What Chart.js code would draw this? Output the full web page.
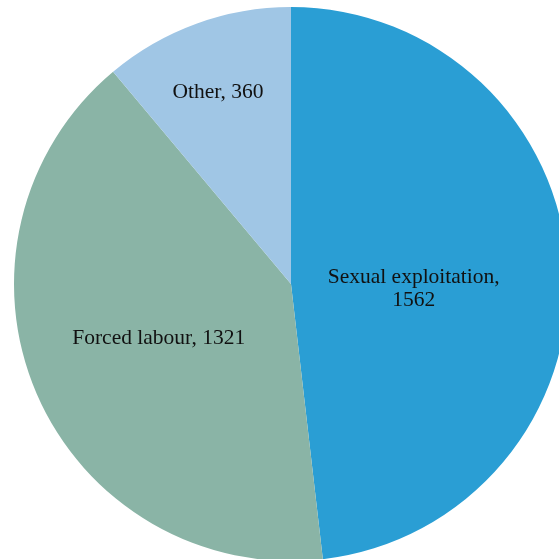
<!DOCTYPE html>
<html>
<head>
<meta charset="utf-8">
<script src="https://cdn.jsdelivr.net/npm/chart.js@4"></script>
<style>
  html, body { margin: 0; padding: 0; overflow: hidden; background: #fff; width: 559px; height: 559px; }
  #wrap { position: absolute; left: 0; top: 0; width: 582px; height: 570px; }
</style>
</head>
<body>
<div id="wrap"><canvas id="pie" width="582" height="570"></canvas></div>
<script>
const categories = ['Sexual exploitation', 'Forced labour', 'Other'];
const values = [1562, 1321, 360];
const colors = ['#2a9ed4', '#8ab4a6', '#a0c6e5'];

// label placement: fraction of radius along each slice's mid angle, plus a small nudge
const labelRadius = [0.44, 0.52, 0.74];
const labelNudge = [[1, 12], [0, -3], [-3, 1]];
const labelLines = [
    [categories[0] + ',', String(values[0])],
    [categories[1] + ', ' + values[1]],
    [categories[2] + ', ' + values[2]]
];

const sliceLabels = {
    id: 'sliceLabels',
    afterDatasetsDraw(chart) {
        const ctx = chart.ctx;
        const meta = chart.getDatasetMeta(0);
        ctx.save();
        ctx.font = '21.5px "Liberation Serif", serif';
        ctx.fillStyle = '#111';
        ctx.textAlign = 'center';
        ctx.textBaseline = 'middle';
        meta.data.forEach((arc, i) => {
            const p = arc.getProps(['x', 'y', 'startAngle', 'endAngle', 'outerRadius'], true);
            const mid = (p.startAngle + p.endAngle) / 2;
            const r = p.outerRadius * labelRadius[i];
            const x = p.x + Math.cos(mid) * r + labelNudge[i][0];
            const y = p.y + Math.sin(mid) * r + labelNudge[i][1];
            const lines = labelLines[i];
            const lh = 23;
            lines.forEach((t, k) => {
                ctx.fillText(t, x, y + (k - (lines.length - 1) / 2) * lh);
            });
        });
        ctx.restore();
    }
};

new Chart(document.getElementById('pie').getContext('2d'), {
    type: 'pie',
    data: {
        labels: categories,
        datasets: [{
            data: values,
            backgroundColor: colors,
            borderWidth: 0
        }]
    },
    options: {
        responsive: false,
        animation: false,
        layout: { padding: { top: 7, bottom: 9, left: 14, right: 14 } },
        plugins: { legend: { display: false }, tooltip: { enabled: false } }
    },
    plugins: [sliceLabels]
});
</script>
</body>
</html>
